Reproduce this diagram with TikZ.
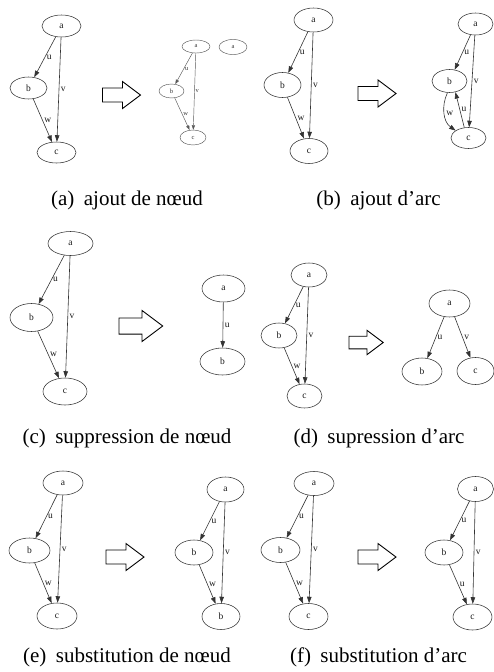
\documentclass[tikz,border=0pt]{standalone}
\usepackage{fontspec}
\setmainfont{Liberation Serif}
\usetikzlibrary{shapes.geometric,arrows.meta}
\tikzset{
 nd/.style={ellipse,draw=black!80,line width=0.55pt,inner sep=0pt,font=\fontsize{9.5}{9.5}\selectfont,text=black!90},
 nds/.style={ellipse,draw=black!65,line width=0.45pt,inner sep=0pt,font=\fontsize{6.5}{6.5}\selectfont,text=black!80},
 sz/.style 2 args={minimum width=#1pt,minimum height=#2pt},
 ed/.style={draw=black!80,line width=0.6pt,-{Triangle[length=6.5pt,width=4.5pt]}},
 eds/.style={draw=black!65,line width=0.45pt,-{Triangle[length=4.5pt,width=3.2pt]}},
 lab/.style={font=\fontsize{9.5}{9.5}\selectfont,inner sep=1.5pt,text=black!90},
 labs/.style={font=\fontsize{6.5}{6.5}\selectfont,inner sep=1pt,text=black!80},
 harr/.style={draw=black,line width=0.9pt,line join=miter},
 capt/.style={font=\fontsize{21}{24}\selectfont,inner sep=0pt}
}
\newcommand\harrow[3]{\begin{scope}[shift={(#1,-#2)},scale=#3]
 \draw[harr] (0,7) -- (20,7) -- (20,13.5) -- (38,0) -- (20,-13.5) -- (20,-7) -- (0,-7) -- cycle;
\end{scope}}
\begin{document}
\begin{tikzpicture}[x=1pt,y=1pt]
\useasboundingbox (0,0) rectangle (494,-672);
% ---------- (a)
\node[nd,sz={39}{22}] (aA) at (61.5,-26) {a};
\node[nd,sz={37}{22}] (aB) at (28.5,-88) {b};
\node[nd,sz={39}{21}] (aC) at (56.5,-152.5) {c};
\draw[ed] (aA) -- node[lab,right]{u} (aB);
\draw[ed] (aA) -- node[lab,right]{v} (aC);
\draw[ed] (aB) -- node[lab,right]{w} (aC);
\harrow{102.5}{95}{1}
\node[nds,sz={28}{13}] (a2A) at (196,-46.5) {a};
\node[nds,sz={28}{15}] (a2N) at (233,-47) {a};
\node[nds,sz={25}{14}] (a2B) at (171.5,-91) {b};
\node[nds,sz={26}{15}] (a2C) at (193,-137.5) {c};
\draw[eds] (a2A) -- node[labs,right]{u} (a2B);
\draw[eds] (a2A) -- node[labs,right]{v} (a2C);
\draw[eds] (a2B) -- node[labs,right]{w} (a2C);
\node[capt] (capA) at (127,-200) {(a)\hspace{0.45em}ajout de nœud};
% ---------- (b)
\node[nd,sz={39}{24}] (bA) at (313.5,-20) {a};
\node[nd,sz={37}{25}] (bB) at (282.5,-85) {b};
\node[nd,sz={38}{25}] (bC) at (309,-151) {c};
\draw[ed] (bA) -- node[lab,right]{u} (bB);
\draw[ed] (bA) -- node[lab,right]{v} (bC);
\draw[ed] (bB) -- node[lab,right]{w} (bC);
\harrow{358}{93.5}{1}
\node[nd,sz={35}{22}] (b2A) at (475.5,-24) {a};
\node[nd,sz={35}{23}] (b2B) at (449.5,-81) {b};
\node[nd,sz={35}{21}] (b2C) at (468.5,-138) {c};
\draw[ed] (b2A) -- node[lab,right]{u} (b2B);
\draw[ed] (b2A) -- node[lab,right]{v} (b2C);
\draw[ed] (b2B.-100) to[out=-115,in=145] node[lab,right,pos=0.5]{w} (b2C.150);
\draw[ed] (b2C.112) -- node[lab,right]{u} (b2B.-62);
\node[capt] (capB) at (378.5,-200) {(b)\hspace{0.45em}ajout d’arc};
% ---------- (c)
\node[nd,sz={45}{24}] (cA) at (70.5,-243.5) {a};
\node[nd,sz={43}{28}] (cB) at (31.5,-317.5) {b};
\node[nd,sz={44}{27}] (cC) at (65,-391.5) {c};
\draw[ed] (cA) -- node[lab,right]{u} (cB);
\draw[ed] (cA) -- node[lab,right]{v} (cC);
\draw[ed] (cB) -- node[lab,right]{w} (cC);
\harrow{119}{326}{1.15}
\node[nd,sz={43}{27}] (c2A) at (223.5,-288.5) {a};
\node[nd,sz={45}{27}] (c2B) at (222.5,-361.5) {b};
\draw[ed] (c2A) -- node[lab,right]{u} (c2B);
\node[capt] (capC) at (127,-438) {(c)\hspace{0.45em}suppression de nœud};
% ---------- (d)
\node[nd,sz={36}{24}] (dA) at (309,-275) {a};
\node[nd,sz={36}{25}] (dB) at (279,-335.5) {b};
\node[nd,sz={35}{24}] (dC) at (304.5,-396) {c};
\draw[ed] (dA) -- node[lab,right]{u} (dB);
\draw[ed] (dA) -- node[lab,right]{v} (dC);
\draw[ed] (dB) -- node[lab,right]{w} (dC);
\harrow{349}{342.5}{0.9}
\node[nd,sz={41}{27}] (d2A) at (449.5,-303.5) {a};
\node[nd,sz={40}{27}] (d2B) at (422,-371.5) {b};
\node[nd,sz={37}{27}] (d2C) at (475.5,-371) {c};
\draw[ed] (d2A) -- node[lab,right]{u} (d2B);
\draw[ed] (d2A) -- node[lab,right]{v} (d2C);
\node[capt] (capD) at (379,-438) {(d)\hspace{0.45em}supression d’arc};
% ---------- (e)
\node[nd,sz={40}{24}] (eA) at (63,-483) {a};
\node[nd,sz={41}{25}] (eB) at (29.5,-550.5) {b};
\node[nd,sz={40}{26}] (eC) at (57,-616) {c};
\draw[ed] (eA) -- node[lab,right]{u} (eB);
\draw[ed] (eA) -- node[lab,right]{v} (eC);
\draw[ed] (eB) -- node[lab,right]{w} (eC);
\harrow{106}{557}{1}
\node[nd,sz={37}{25}] (e2A) at (225.5,-489.5) {a};
\node[nd,sz={38}{25}] (e2B) at (194,-552.5) {b};
\node[nd,sz={38}{26}] (e2C) at (221,-616.5) {b};
\draw[ed] (e2A) -- node[lab,right]{u} (e2B);
\draw[ed] (e2A) -- node[lab,right]{v} (e2C);
\draw[ed] (e2B) -- node[lab,right]{w} (e2C);
\node[capt] (capE) at (127,-657) {(e)\hspace{0.45em}substitution de nœud};
% ---------- (f)
\node[nd,sz={40}{24}] (fA) at (314,-483.5) {a};
\node[nd,sz={39}{25}] (fB) at (280.5,-550) {b};
\node[nd,sz={39}{26}] (fC) at (308.5,-616.5) {c};
\draw[ed] (fA) -- node[lab,right]{u} (fB);
\draw[ed] (fA) -- node[lab,right]{v} (fC);
\draw[ed] (fB) -- node[lab,right]{w} (fC);
\harrow{358}{557}{1}
\node[nd,sz={36}{25}] (f2A) at (475.5,-489) {a};
\node[nd,sz={38}{25}] (f2B) at (444,-552.5) {b};
\node[nd,sz={39}{26}] (f2C) at (472.5,-617) {c};
\draw[ed] (f2A) -- node[lab,right]{u} (f2B);
\draw[ed] (f2A) -- node[lab,right]{v} (f2C);
\draw[ed] (f2B) -- node[lab,right]{u} (f2C);
\node[capt] (capF) at (378.5,-657) {(f)\hspace{0.45em}substitution d’arc};
\end{tikzpicture}
\end{document}
